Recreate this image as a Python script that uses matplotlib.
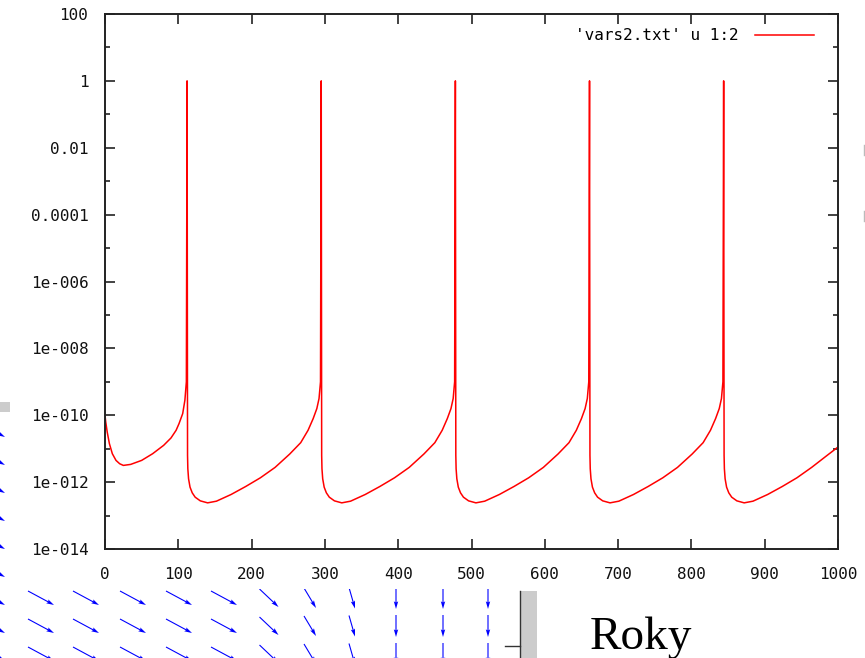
import numpy as np
import matplotlib.pyplot as plt
from matplotlib.ticker import FixedLocator, FixedFormatter, NullFormatter
from matplotlib.patches import Rectangle

# column 1 of vars2.txt and log10 of column 2
t = [0, 1, 3, 6, 10, 15, 20, 25, 35, 50, 65, 80, 90, 97, 101, 106, 109, 111, 112,
     112.6, 113, 114, 116, 119, 123, 130, 140, 152, 172, 192, 212, 232, 252, 267, 277, 284, 289, 292, 294, 295,
     295.6, 296, 297, 299, 302, 306, 313, 323, 335, 355, 375, 395, 415, 435, 450, 460, 467, 472, 475, 477, 478,
     478.6, 479, 480, 482, 485, 489, 496, 506, 518, 538, 558, 578, 598, 618, 633, 643, 650, 655, 658, 660, 661,
     661.6, 662, 663, 665, 668, 672, 679, 689, 701, 721, 741, 761, 781, 801, 816, 826, 833, 838, 841, 843, 844,
     844.6, 845, 846, 848, 851, 855, 862, 872, 884, 904, 924, 944, 964, 984, 1000]
log_v = [-10.0, -10.2, -10.5, -10.85, -11.15, -11.35, -11.45, -11.5, -11.47, -11.35, -11.15, -10.9, -10.68,
         -10.45, -10.25, -9.95, -9.55, -9.0, 0,
         -11.2, -11.6, -11.9, -12.15, -12.32, -12.45, -12.56, -12.62, -12.57, -12.37, -12.13, -11.87, -11.56,
         -11.16, -10.82, -10.45, -10.1, -9.8, -9.5, -9.0, 0,
         -11.2, -11.6, -11.9, -12.15, -12.32, -12.45, -12.56, -12.62, -12.57, -12.37, -12.13, -11.87, -11.56,
         -11.16, -10.82, -10.45, -10.1, -9.8, -9.5, -9.0, 0,
         -11.2, -11.6, -11.9, -12.15, -12.32, -12.45, -12.56, -12.62, -12.57, -12.37, -12.13, -11.87, -11.56,
         -11.16, -10.82, -10.45, -10.1, -9.8, -9.5, -9.0, 0,
         -11.2, -11.6, -11.9, -12.15, -12.32, -12.45, -12.56, -12.62, -12.57, -12.37, -12.13, -11.87, -11.56,
         -11.16, -10.82, -10.45, -10.1, -9.8, -9.5, -9.0, 0,
         -11.2, -11.6, -11.9, -12.15, -12.32, -12.45, -12.56, -12.62, -12.57, -12.37, -12.13, -11.87, -11.56,
         -11.22, -10.95]
series_label = "'vars2.txt' u 1:2"

x_ticks = [0, 100, 200, 300, 400, 500, 600, 700, 800, 900, 1000]
y_tick_exp = [2, 0, -2, -4, -6, -8, -10, -12, -14]
y_tick_labels = ["100", "1", "0.01", "0.0001", "1e-006", "1e-008", "1e-010", "1e-012", "1e-014"]
y_minor_exp = [1, -1, -3, -5, -7, -9, -11, -13]

# vector field of the window lying under the plot (pixel grid)
arrow_x = [-8, 41, 86, 133, 179, 224, 269, 310, 352, 396, 443, 488]
arrow_u = [26, 26, 26, 26, 26, 26, 19, 12, 6, 0, 0, 0]
arrow_v = [14, 14, 14, 14, 14, 14, 18, 20, 21, 22, 22, 22]
arrow_rows = [598, 626, 654]
left_rows = [430, 458, 486, 514, 542, 570, 598, 626, 654]

W, H = 865, 658
fig = plt.figure(figsize=(W / 100, H / 100), dpi=100)

# background window
bg = fig.add_axes([0, 0, 1, 1], zorder=0)
bg.set_xlim(0, W)
bg.set_ylim(H, 0)
bg.axis('off')

qx, qy, qu, qv = [], [], [], []
for i, x0 in enumerate(arrow_x):
    rows = left_rows if i == 0 else arrow_rows
    for y0 in rows:
        qx.append(x0)
        qy.append(y0)
        qu.append(arrow_u[i])
        qv.append(arrow_v[i])
bg.quiver(qx, qy, qu, qv, angles='xy', scale_units='xy', scale=1, pivot='middle',
          color='#0000ff', units='xy', width=1.1, headwidth=4, headlength=7,
          headaxislength=6, zorder=1)
bg.add_patch(Rectangle((10, 0), W - 10, 589, facecolor='white', edgecolor='none', zorder=2))
bg.add_patch(Rectangle((0, 402), 10, 10, facecolor='#cccccc', edgecolor='none', zorder=3))
bg.add_patch(Rectangle((520, 591), 17, 70, facecolor='#cccccc', edgecolor='none', zorder=3))
bg.plot([520, 520], [591, 660], color='#333333', lw=1, zorder=4)
bg.plot([505, 520], [646, 646], color='#333333', lw=1, zorder=4)
bg.text(590, 649, 'Roky', family='Liberation Serif', fontsize=34, color='black',
        ha='left', va='baseline', zorder=4)
# edges of glyphs from a window off to the right
for yy in [150, 216]:
    bg.plot([863.5, 863.5], [yy - 5, yy + 5], color='#bbbbbb', lw=1.0, zorder=4)

# gnuplot plot
ax = fig.add_axes([105 / W, 109 / H, 733 / W, 535 / H], zorder=2)
ax.patch.set_alpha(0)
ax.semilogy(t, 10.0 ** np.array(log_v), color='#ff0000', lw=1.1, label=series_label)

ax.set_xlim(0, 1000)
ax.set_ylim(1e-14, 100)
ax.xaxis.set_major_locator(FixedLocator(x_ticks))
ax.set_xticklabels([str(v) for v in x_ticks])
ax.yaxis.set_major_locator(FixedLocator([10.0 ** e for e in y_tick_exp]))
ax.yaxis.set_major_formatter(FixedFormatter(y_tick_labels))
ax.yaxis.set_minor_locator(FixedLocator([10.0 ** e for e in y_minor_exp]))
ax.yaxis.set_minor_formatter(NullFormatter())
ax.xaxis.set_minor_locator(FixedLocator([]))

for lab in ax.get_xticklabels() + ax.get_yticklabels():
    lab.set_fontfamily('DejaVu Sans Mono')
    lab.set_fontsize(11.5)
    lab.set_color('#111111')

ax.tick_params(which='both', direction='in', top=True, right=True, color='#222222', width=1.2)
ax.tick_params(which='major', length=7.5)
ax.tick_params(which='minor', length=3.8)
ax.tick_params(axis='y', pad=12)
ax.tick_params(axis='x', pad=13)
for s in ax.spines.values():
    s.set_linewidth(1.4)
    s.set_color('#222222')

ax.legend(loc='upper right', bbox_to_anchor=(0.967, 0.973), frameon=False, markerfirst=False,
          handlelength=3.7, handletextpad=1.0, borderaxespad=0, borderpad=0,
          prop={'family': 'DejaVu Sans Mono', 'size': 11.5})

fig.savefig('out.png', dpi=100)
